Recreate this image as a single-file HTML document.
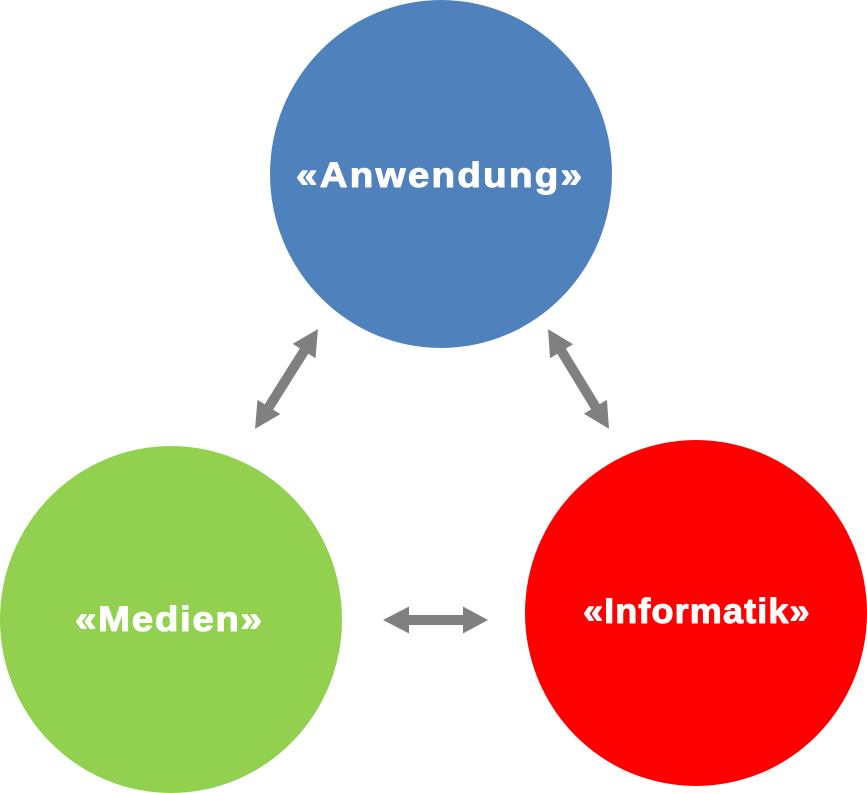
<!DOCTYPE html>
<html>
<head>
<meta charset="utf-8">
<style>
html,body{margin:0;padding:0;background:#fff;}
svg{display:block;}
</style>
</head>
<body>
<svg width="867" height="793" viewBox="0 0 867 793" xmlns="http://www.w3.org/2000/svg">
  <ellipse cx="441" cy="174" rx="171" ry="174" fill="#4F81BD"/>
  <ellipse cx="171" cy="619.5" rx="171" ry="173.5" fill="#92D050"/>
  <ellipse cx="696" cy="613" rx="171" ry="173" fill="#FF0000"/>

  <!-- horizontal arrow -->
  <polygon points="383,620 409,606.5 409,615 463,615 463,606.5 488,620 463,633.5 463,625 409,625 409,633.5" fill="#808080"/>

  <!-- left diagonal arrow -->
  <g transform="translate(286.5,379) rotate(-57.8)">
    <polygon points="-59,0 -33,-13.5 -33,-5 33,-5 33,-13.5 59,0 33,13.5 33,5 -33,5 -33,13.5" fill="#808080"/>
  </g>
  <!-- right diagonal arrow -->
  <g transform="translate(578.5,379) rotate(58.6)">
    <polygon points="-58.5,0 -32.5,-13.5 -32.5,-5 32.5,-5 32.5,-13.5 58.5,0 32.5,13.5 32.5,5 -32.5,5 -32.5,13.5" fill="#808080"/>
  </g>

  <g font-family="'Liberation Sans', Arial, sans-serif" font-weight="bold" font-size="35" fill="#fff" stroke="#fff" stroke-width="1" stroke-linejoin="round">
    <text transform="translate(296,187) scale(1.1,1)" x="0" y="0" textLength="260" lengthAdjust="spacing">«Anwendung»</text>
    <text transform="translate(75,631) scale(1.1,1)" x="0" y="0" textLength="170" lengthAdjust="spacing">«Medien»</text>
    <text transform="translate(583,623) scale(1.03,1)" x="0" y="0" textLength="220" lengthAdjust="spacing">«Informatik»</text>
  </g>
</svg>
</body>
</html>
